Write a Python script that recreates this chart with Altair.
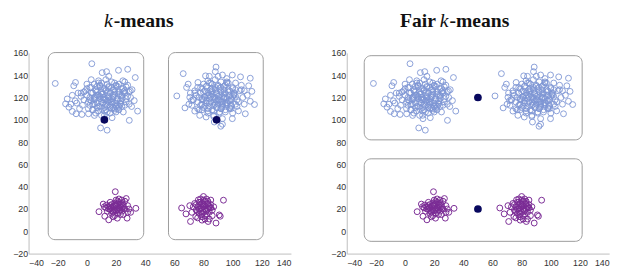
import altair as alt
import pandas as pd

# ---- data ----
blue_left_x = [5, 8, 10, 12, 14, 16, 18, 20, 22, 24, 6, 9, 11, 13, 15, 17, 19, 21, 23, 25,
               2, 4, 7, 3, 1, 0, -2, -4, -1, -3, 10, 13, 17, 20, 8, 5, 22, 26, 27, 24,
               16, 12, 8, 20, 4, 25, 28, 14, 11, 18, 6, 9, 15, 19, 21, 13, 7, 17, 23, 10,
               -6, -8, -5, 2, 0, 28, 30, 26, 3, 15, 12, 18, -10, -11, 29,
               -21.7, 3.4, 28, 33.2, 34.8, 29.1, 9.4, 13.9, 21.7, 10.5, 13.5, -7.8, -9, -13.5,
               -14.6, -12.3, -10, -7.4, -3.4, 30.7, 32.5, 26.9, 29.8, 24.7, 19, 12.3, 5.2, 1.1, 17.3,
               3, 6, 9, 12, 15, 18, 21, 24, 27, 4, 7, 10, 13, 16, 19, 22, 25,
               2, 5, 8, 11, 14, 17, 20, 23, 26, 0, 3, 6, 9, 12, 15, 18, 21, 24,
               1, 4, 7, 10, 13, 16, 19, 22, -2, 8, 14, 20, 26, 5, 11, 17, 23,
               -4, 29, -7, 31, 12, 16, 9, 19, 6, 14, 22, 10, 2, 18, 24, 13, 7, 15, 21, 11, 17]
blue_left_y = [118, 122, 116, 120, 124, 118, 121, 115, 125, 119, 126, 112, 128, 114, 130, 110, 127, 113, 122, 128,
               120, 114, 130, 124, 116, 122, 118, 121, 126, 113, 133, 136, 134, 131, 135, 132, 132, 124, 116, 112,
               106, 108, 108, 107, 109, 107, 121, 117, 123, 116, 121, 119, 121, 123, 119, 127, 115, 129, 117, 125,
               124, 117, 110, 129, 132, 131, 120, 134, 136, 139, 104, 111, 122, 114, 114,
               132.6, 150.3, 145.3, 137.9, 107.8, 99.5, 92.7, 90.7, 144.4, 142.3, 143.2, 133.5, 130.5, 118.7,
               114.3, 111.3, 107.5, 105.4, 104.8, 111.9, 117.2, 129.6, 126, 135, 108.4, 101, 103.9, 105.4, 101.9,
               117, 119, 121, 118, 120, 122, 117, 121, 119, 124, 125, 123, 126, 124, 125, 123, 125,
               113, 114, 112, 115, 113, 114, 112, 115, 113, 128, 129, 127, 130, 128, 129, 127, 130, 128,
               110, 109, 111, 110, 109, 111, 110, 109, 125, 133, 132, 130, 126, 120, 118, 116, 114,
               124, 125, 115, 127, 111, 113, 131, 133, 106, 107, 112, 104, 118, 120, 122, 118, 122, 116, 110, 120, 119]

blue_right_x = [80, 83, 85, 87, 89, 91, 93, 95, 97, 99, 81, 84, 86, 88, 90, 92, 94, 96, 98, 100,
                77, 79, 82, 78, 76, 75, 73, 74, 102, 104, 85, 88, 92, 95, 83, 80, 97, 101, 103, 99,
                91, 87, 83, 95, 79, 100, 105, 89, 86, 93, 81, 84, 90, 94, 96, 88, 82, 92, 98, 85,
                107, 106, 108, 78, 76, 102, 104, 96, 90, 84, 87, 93, 71, 72, 110,
                61.7, 66.1, 67.3, 68.4, 70.6, 88.6, 88.1, 81.4, 93, 99.8, 105.4, 112.1, 111, 113.2,
                115, 112.1, 108.7, 99.8, 91.9, 93, 87.4, 81.8, 77.4, 74, 71.7, 76.2, 69.5,
                79, 82, 85, 88, 91, 94, 97, 100, 103, 80, 83, 86, 89, 92, 95, 98, 101,
                78, 81, 84, 87, 90, 93, 96, 99, 102, 76, 79, 82, 85, 88, 91, 94, 97, 100,
                77, 80, 83, 86, 89, 92, 95, 98, 74, 84, 90, 96, 102, 81, 87, 93, 99,
                73, 106, 70, 108, 89, 93, 86, 96, 83, 91, 99, 87, 79, 95, 101, 90, 84, 92, 98, 88, 94]
blue_right_y = [118, 122, 116, 120, 124, 118, 121, 115, 125, 119, 126, 112, 128, 114, 130, 110, 127, 113, 122, 128,
                120, 114, 130, 124, 116, 122, 118, 126, 121, 116, 133, 136, 134, 131, 135, 132, 133, 124, 112, 110,
                106, 108, 108, 107, 109, 106, 126, 117, 123, 116, 121, 119, 121, 123, 119, 127, 115, 129, 117, 125,
                120, 131, 114, 129, 110, 133, 108, 137, 139, 139, 103, 101, 124, 113, 122,
                121.4, 141.4, 110.7, 129, 120.2, 147.3, 143.2, 139.4, 140.2, 140.2, 138.5, 137.3, 130.5, 125.5,
                113.7, 116.6, 105.4, 101, 94.2, 96, 98, 102.5, 104, 107.8, 117.2, 133.5, 132,
                119, 117, 121, 118, 122, 120, 117, 121, 118, 125, 124, 126, 123, 125, 124, 126, 123,
                113, 112, 115, 113, 114, 112, 115, 113, 114, 129, 128, 130, 127, 129, 128, 130, 127, 129,
                109, 111, 110, 109, 111, 110, 109, 111, 124, 133, 131, 134, 127, 120, 116, 114, 118,
                118, 127, 114, 126, 111, 113, 132, 133, 106, 107, 112, 104, 118, 120, 122, 118, 122, 116, 110, 120, 119]

purple_left_x = [19.5, 8.3, 33.6, 27, 27.6, 20.9, 15, 12.3, 11.2, 13.5,
                 16, 18, 20, 22, 24, 19, 21, 23, 17, 25, 14, 15, 18, 20, 22, 24, 26, 21, 19, 23,
                 16, 17, 28, 29, 26, 13, 22, 20, 24, 18, 30, 28, 12, 25, 17,
                 17, 19, 21, 23, 18, 20, 22, 16, 24, 21, 19, 23, 15, 25]
purple_left_y = [35.5, 17.6, 20.6, 29.4, 11.8, 11.8, 10.3, 13.5, 24.4, 23.5,
                 20, 22, 19, 21, 18, 25, 27, 24, 16, 22, 18, 22, 18, 23, 26, 25, 20, 16, 14, 15,
                 26, 24, 17, 20, 27, 21, 29, 28, 28, 13, 17, 23, 22, 15, 19,
                 21, 23, 20, 22, 17, 24, 18, 23, 21, 25, 19, 19, 20, 24]

purple_right_x = [93.7, 88.6, 90.8, 91.5, 71.1, 65, 68, 80, 76.5, 83.2, 74.7, 70.6,
                  78, 80, 82, 79, 81, 83, 77, 84, 76, 78, 80, 82, 79, 81, 84, 85, 77, 75, 78, 82,
                  80, 83, 86, 87, 75, 73, 76, 79, 86, 85, 74, 81, 78, 84, 72,
                  79, 81, 83, 80, 82, 78, 84, 77, 81, 79, 83, 85, 76, 80]
purple_right_y = [27.9, 7.4, 14.7, 13.5, 8.8, 20.9, 15.6, 31.2, 28.2, 8.8, 13.2, 23,
                  20, 22, 19, 25, 27, 24, 16, 21, 22, 18, 17, 15, 13, 11, 17, 24, 26, 24, 29, 29,
                  24, 27, 19, 22, 19, 22, 12, 10, 14, 28, 25, 20, 23, 11, 17,
                  21, 23, 20, 24, 18, 26, 22, 20, 14, 16, 25, 21, 18, 28]

kmeans_center_x = [12, 89]
kmeans_center_y = [100, 100]
fair_center_x = [50, 50]
fair_center_y = [120, 20]

kmeans_box_x1 = [-26.5, 56]
kmeans_box_x2 = [39, 121]
kmeans_box_y1 = [-7.5, -7.5]
kmeans_box_y2 = [160.3, 160.3]
fair_box_x1 = [-28, -28]
fair_box_x2 = [121.5, 121.5]
fair_box_y1 = [82, -9]
fair_box_y2 = [157.5, 65]

tick_values = [-40, -20, 0, 20, 40, 60, 80, 100, 120, 140]
ytick_values = [-20, 0, 20, 40, 60, 80, 100, 120, 140, 160]

BLUE = "#7d95d4"
PURPLE = "#7a2b95"
NAVY = "#08085e"
BOX = "#9b9b9b"

blue_df = pd.DataFrame({"x": blue_left_x + blue_right_x, "y": blue_left_y + blue_right_y})
purple_df = pd.DataFrame({"x": purple_left_x + purple_right_x, "y": purple_left_y + purple_right_y})

W, H = 268, 205

xs = alt.Scale(domain=[-40, 140], nice=False, zero=False)
ys = alt.Scale(domain=[-20, 160], nice=False, zero=False)
xax = alt.Axis(values=tick_values, title=None, grid=False, tickSize=0, labelPadding=5)
yax = alt.Axis(values=ytick_values, title=None, grid=False, tickSize=0, labelPadding=1)


def panel(bx1, bx2, by1, by2, cx, cy, title_parts):
    boxes = alt.Chart(pd.DataFrame({"x1": bx1, "x2": bx2, "y1": by1, "y2": by2})).mark_rect(
        filled=False, stroke=BOX, strokeWidth=1, cornerRadius=7, color=BOX
    ).encode(
        x=alt.X("x1:Q", scale=xs, axis=xax), x2="x2:Q",
        y=alt.Y("y1:Q", scale=ys, axis=yax), y2="y2:Q",
    )
    blue = alt.Chart(blue_df).mark_point(
        shape="circle", filled=False, size=36, strokeWidth=0.9, color=BLUE, opacity=1
    ).encode(x=alt.X("x:Q", scale=xs, axis=xax), y=alt.Y("y:Q", scale=ys, axis=yax))
    purple = alt.Chart(purple_df).mark_point(
        shape="circle", filled=False, size=36, strokeWidth=1, color=PURPLE, opacity=1
    ).encode(x=alt.X("x:Q", scale=xs, axis=xax), y=alt.Y("y:Q", scale=ys, axis=yax))
    cents = alt.Chart(pd.DataFrame({"x": cx, "y": cy})).mark_point(
        shape="circle", filled=True, size=62, color=NAVY, opacity=1
    ).encode(x=alt.X("x:Q", scale=xs, axis=xax), y=alt.Y("y:Q", scale=ys, axis=yax))
    layers = [boxes, blue, purple, cents]
    for txt, xpos, align, style, weight in title_parts:
        layers.append(
            alt.Chart(pd.DataFrame({"t": [txt]})).mark_text(
                align=align, baseline="alphabetic", font="Liberation Serif",
                fontSize=20, fontStyle=style, fontWeight=weight, color="#111111"
            ).encode(x=alt.value(xpos), y=alt.value(-26), text="t:N")
        )
    return alt.layer(*layers).properties(width=W, height=H)


left = panel(kmeans_box_x1, kmeans_box_x2, kmeans_box_y1, kmeans_box_y2,
             kmeans_center_x, kmeans_center_y,
             [("k", 86, "right", "italic", "normal"), ("-means", 87, "left", "normal", "bold")])
right = panel(fair_box_x1, fair_box_x2, fair_box_y1, fair_box_y2,
              fair_center_x, fair_center_y,
              [("Fair", 91, "right", "normal", "bold"), ("k", 95, "left", "italic", "normal"),
               ("-means", 105, "left", "normal", "bold")])

chart = alt.hconcat(left, right, spacing=39).properties(
    padding={"left": 4, "top": 1, "right": 5, "bottom": 5}
).configure_view(stroke=None).configure_axis(
    domainColor="#bdbdbd", labelColor="#333333", labelFont="Liberation Sans", labelFontSize=9,
    domainWidth=1
)

chart.save("out.html", embed_options={"renderer": "svg", "actions": False})
